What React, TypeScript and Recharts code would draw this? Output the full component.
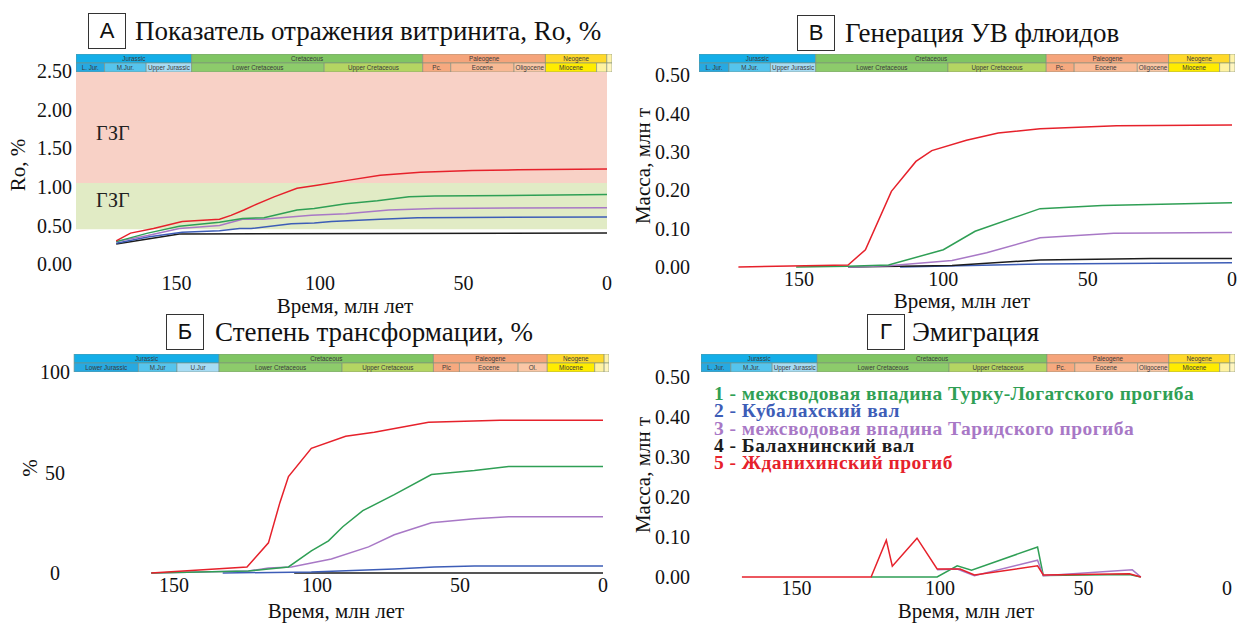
import React from "react";
import { LineChart, Line, XAxis, YAxis, ReferenceArea, ComposedChart } from "recharts";

const SERIF = '"Liberation Serif", "Times New Roman", serif';
const SANS = '"Liberation Sans", Arial, sans-serif';

// series colours
const C = { green: "#2f9f55", blue: "#3d5db7", purple: "#a878c6", black: "#1c1c1c", red: "#e6212b" };

// ---- geologic time bar (Ma) ----
const periodAges = [199.6, 145.5, 65.5, 23.03, 1.806, 0];
const periodNames = ["Jurassic", "Cretaceous", "Paleogene", "Neogene", ""];
const periodFills = ["#14aee8", "#80c563", "#f5a47b", "#ffd92a", "#fff3a8"];
const epochAges = [199.6, 175.6, 161.2, 145.5, 99.6, 65.5, 55.8, 33.9, 23.03, 5.332, 1.806, 0];
const epochFills = ["#27a9e1", "#55c4ed", "#a7dcf4", "#8dcb6b", "#b4d562", "#f6a97f", "#f8b994", "#fac7a6", "#ffec00", "#fff2a0", "#fff6c0"];
const epochNamesStd = ["L. Jur.", "M.Jur.", "Upper Jurassic", "Lower Cretaceous", "Upper Cretaceous", "Pc.", "Eocene", "Oligocene", "Miocene", "", ""];
const epochNamesB = ["Lower Jurassic", "M.Jur", "U.Jur", "Lower Cretaceous", "Upper Cretaceous", "Plc", "Eocene", "Ol.", "Miocene", "", ""];

// ---- А: vitrinite reflectance, Ro % (age Ma, value) ----
const roBlack = [[171, 0.26], [149, 0.39], [0, 0.4]];
const roBlue = [[171, 0.27], [160, 0.35], [148, 0.41], [135, 0.43], [128, 0.46], [124, 0.46], [110, 0.52], [102, 0.53], [96, 0.55], [79, 0.58], [66, 0.6], [0, 0.61]];
const roPurple = [[171, 0.29], [160, 0.37], [149, 0.46], [135, 0.5], [127, 0.58], [120, 0.58], [103, 0.63], [91, 0.65], [76, 0.7], [60, 0.72], [0, 0.73]];
const roGreen = [[171, 0.29], [160, 0.4], [149, 0.49], [135, 0.54], [127, 0.59], [119.5, 0.6], [108, 0.7], [102, 0.72], [91, 0.78], [80, 0.82], [69, 0.87], [60, 0.88], [0, 0.9]];
const roRed = [[171, 0.3], [166, 0.4], [158, 0.46], [148, 0.55], [135, 0.58], [131, 0.63], [126.5, 0.7], [123, 0.76], [116, 0.87], [108, 0.98], [101, 1.02], [91, 1.08], [79, 1.15], [65, 1.19], [47, 1.21], [31, 1.22], [0, 1.23]];
const roZones = [0.45, 1.05, 2.5];
const roZoneNames = ["ГЗГ", "ГЗГ"];
const roTicks = [0, 0.5, 1, 1.5, 2, 2.5];

// ---- В: generation, mln t ----
const genBlue = [[115, 0], [66.5, 0.008], [0, 0.011]];
const genBlack = [[133, 0], [97, 0.004], [85, 0.01], [66.5, 0.018], [28, 0.022], [0, 0.022]];
const genPurple = [[133, 0], [119, 0.003], [97, 0.017], [85, 0.037], [66.5, 0.076], [41, 0.088], [0, 0.09]];
const genGreen = [[151, 0], [133, 0.002], [119, 0.005], [100, 0.045], [89, 0.093], [66.5, 0.152], [45, 0.16], [0, 0.167]];
const genRed = [[171, 0], [133, 0.005], [127, 0.045], [118, 0.197], [109.5, 0.275], [104, 0.303], [92, 0.33], [81, 0.349], [66.5, 0.36], [40, 0.368], [0, 0.37]];
const massTicks = [0, 0.1, 0.2, 0.3, 0.4, 0.5];

// ---- Б: transformation ratio, % ----
const trBlack = [[108, 0], [0, 0]];
const trBlue = [[133, 0], [102, 0.5], [73, 2], [59, 3], [45, 3.5], [0, 3.5]];
const trPurple = [[158, 0], [124, 1], [117, 2.5], [109, 3], [102, 5], [95, 7], [82, 13], [73, 19], [60, 25], [45, 27], [33, 28], [0, 28]];
const trGreen = [[158, 0], [124, 1], [117, 2], [110, 3], [102, 11], [96, 16], [91, 23], [84, 31], [73, 39], [60, 49], [45, 51], [33, 53], [0, 53]];
const trRed = [[158, 0], [124.5, 3], [117, 15], [113, 35], [110, 48], [102, 62], [90, 68], [80, 70], [61, 75], [36, 76], [0, 76]];
const trTicks = [0, 50, 100];

// ---- Г: emigration, mln t ----
const emGreen = [[124, 0], [101, 0], [94, 0.028], [89, 0.017], [66, 0.075], [64, 0.004], [34, 0.006], [30, 0]];
const emPurple = [[101, 0.018], [94, 0.02], [88, 0.003], [66, 0.042], [64, 0.003], [33, 0.018], [30, 0]];
const emRed = [[169, 0], [124, 0], [118.7, 0.092], [116.6, 0.027], [108, 0.097], [101, 0.02], [93, 0.02], [88, 0.005], [66, 0.028], [64, 0.005], [34, 0.008], [30, 0]];

const legendNames = [
  "1 - межсводовая впадина Турку-Логатского прогиба",
  "2 - Кубалахский вал",
  "3 - межсводовая впадина Таридского прогиба",
  "4 - Балахнинский вал",
  "5 - Жданихинский прогиб",
];
const legendColors = [C.green, C.blue, C.purple, C.black, C.red];

const ageTicks = [0, 50, 100, 150];

const pts = (a: number[][]) => a.map(([t, v]) => ({ t, v }));

function TimeBar({ left, top, width, maxAge, names }: { left: number; top: number; width: number; maxAge: number; names: string[] }) {
  const cut = (a: number) => Math.min(a, maxAge);
  const lbl = (value: string) => ({ value, position: "center" as const, fontSize: 6.3, fill: "#3a3a3a", fontFamily: SANS });
  return (
    <div style={{ position: "absolute", left, top }}>
      <ComposedChart width={width} height={18} margin={{ top: 0, right: 0, bottom: 0, left: 0 }} data={[{ t: 0, y: 0 }, { t: maxAge, y: 2 }]}>
        <XAxis dataKey="t" type="number" domain={[0, maxAge]} reversed hide allowDataOverflow />
        <YAxis dataKey="y" type="number" domain={[0, 2]} hide allowDataOverflow />
        <Line dataKey="y" stroke="none" dot={false} isAnimationActive={false} />
        {periodNames.map((n, i) => (
          <ReferenceArea key={"p" + i} x1={cut(periodAges[i])} x2={periodAges[i + 1]} y1={1} y2={2}
            fill={periodFills[i]} fillOpacity={1} stroke="#7d8d7d" strokeWidth={0.6} label={lbl(n)} />
        ))}
        {names.map((n, i) => (
          <ReferenceArea key={"e" + i} x1={cut(epochAges[i])} x2={epochAges[i + 1]} y1={0} y2={1}
            fill={epochFills[i]} fillOpacity={1} stroke="#7d8d7d" strokeWidth={0.6} label={lbl(n)} />
        ))}
      </ComposedChart>
    </div>
  );
}

function TitleBox({ left, top, letter, text, textLeft }: { left: number; top: number; letter: string; text: string; textLeft: number }) {
  return (
    <>
      <div style={{ position: "absolute", left, top, width: 36, height: 34, border: "1.3px solid #333", fontFamily: SANS, fontSize: 22, lineHeight: "34px", textAlign: "center", color: "#111" }}>{letter}</div>
      <div style={{ position: "absolute", left: textLeft, top: top, height: 36, lineHeight: "36px", fontFamily: SERIF, fontSize: 27, color: "#111", whiteSpace: "nowrap" }}>{text}</div>
    </>
  );
}

function YTitle({ x, y, text }: { x: number; y: number; text: string }) {
  return (
    <div style={{ position: "absolute", left: x, top: y, transform: "translate(-50%,-50%) rotate(-90deg)", fontFamily: SERIF, fontSize: 21, color: "#111", whiteSpace: "nowrap" }}>{text}</div>
  );
}

function XTitle({ x, y, text }: { x: number; y: number; text: string }) {
  return (
    <div style={{ position: "absolute", left: x, top: y, transform: "translate(-50%,-50%)", fontFamily: SERIF, fontSize: 21, lineHeight: "21px", color: "#111", whiteSpace: "nowrap" }}>{text}</div>
  );
}

const tickStyle = { fontSize: 20, fontFamily: SERIF, fill: "#111" };
const lineProps = { type: "linear" as const, dataKey: "v", dot: false, strokeWidth: 1.5, isAnimationActive: false };

export default function App() {
  return (
    <div style={{ position: "absolute", left: 0, top: 0, width: 1238, height: 624, background: "#fff", overflow: "hidden" }}>
      {/* А */}
      <div style={{ position: "absolute", left: 0, top: 0 }}>
        <LineChart width={620} height={320} margin={{ top: 71, right: 13, bottom: 0, left: 0 }}>
          <XAxis dataKey="t" type="number" domain={[0, 185]} reversed ticks={ageTicks} axisLine={false} tickLine={false} tickSize={0} tickMargin={12} height={56} tick={tickStyle} allowDataOverflow />
          <YAxis type="number" domain={[0, 2.5]} ticks={roTicks} tickFormatter={(v: number) => v.toFixed(2)} axisLine={false} tickLine={false} tickSize={0} tickMargin={4} width={76} tick={tickStyle} />
          {roZoneNames.map((n, i) => (
            <ReferenceArea key={i} y1={roZones[i]} y2={roZones[i + 1]} fill={i === 0 ? "#e1ebc5" : "#f8d1c6"} fillOpacity={1} stroke="none"
              label={{ value: n, position: "insideLeft", offset: 20, dy: i === 0 ? -6 : 6, fontSize: 20, fontFamily: SERIF, fill: "#222" }} />
          ))}
          <Line {...lineProps} data={pts(roBlack)} stroke={C.black} />
          <Line {...lineProps} data={pts(roBlue)} stroke={C.blue} />
          <Line {...lineProps} data={pts(roPurple)} stroke={C.purple} />
          <Line {...lineProps} data={pts(roGreen)} stroke={C.green} />
          <Line {...lineProps} data={pts(roRed)} stroke={C.red} />
        </LineChart>
      </div>
      <TimeBar left={76} top={54} width={536} maxAge={185.5} names={epochNamesStd} />
      <TitleBox left={88} top={13} letter="А" text="Показатель отражения витринита, Ro, %" textLeft={135} />
      <YTitle x={18} y={165} text="Ro, %" />
      <XTitle x={345} y={306} text="Время, млн лет" />

      {/* В */}
      <div style={{ position: "absolute", left: 620, top: 0 }}>
        <LineChart width={618} height={320} margin={{ top: 75, right: 6, bottom: 0, left: 0 }}>
          <XAxis dataKey="t" type="number" domain={[0, 185]} reversed ticks={ageTicks} axisLine={false} tickLine={false} tickSize={0} tickMargin={5} height={53} tick={tickStyle} allowDataOverflow />
          <YAxis type="number" domain={[0, 0.5]} ticks={massTicks} tickFormatter={(v: number) => v.toFixed(2)} axisLine={false} tickLine={false} tickSize={0} tickMargin={8} width={78} tick={tickStyle} />
          <Line {...lineProps} data={pts(genBlue)} stroke={C.blue} />
          <Line {...lineProps} data={pts(genBlack)} stroke={C.black} />
          <Line {...lineProps} data={pts(genPurple)} stroke={C.purple} />
          <Line {...lineProps} data={pts(genGreen)} stroke={C.green} />
          <Line {...lineProps} data={pts(genRed)} stroke={C.red} />
        </LineChart>
      </div>
      <TimeBar left={699} top={54} width={536} maxAge={186} names={epochNamesStd} />
      <TitleBox left={797} top={15} letter="В" text="Генерация УВ флюидов" textLeft={845} />
      <YTitle x={643} y={166} text="Масса, млн т" />
      <XTitle x={962} y={301} text="Время, млн лет" />

      {/* Б */}
      <div style={{ position: "absolute", left: 0, top: 310 }}>
        <LineChart width={620} height={314} margin={{ top: 62, right: 17, bottom: 0, left: 0 }}>
          <XAxis dataKey="t" type="number" domain={[0, 185]} reversed ticks={ageTicks} axisLine={false} tickLine={false} tickSize={0} tickMargin={5} height={51} tick={tickStyle} allowDataOverflow />
          <YAxis type="number" domain={[0, 100]} ticks={trTicks} axisLine={false} tickLine={false} tickSize={0} width={74}
            tick={(p: any) => <text x={55} y={p.y} dy="0.35em" textAnchor="middle" fontSize={20} fontFamily={SERIF} fill="#111">{p.payload.value}</text>} />
          <Line {...lineProps} data={pts(trBlack)} stroke={C.black} />
          <Line {...lineProps} data={pts(trBlue)} stroke={C.blue} />
          <Line {...lineProps} data={pts(trPurple)} stroke={C.purple} />
          <Line {...lineProps} data={pts(trGreen)} stroke={C.green} />
          <Line {...lineProps} data={pts(trRed)} stroke={C.red} />
        </LineChart>
      </div>
      <TimeBar left={73} top={354} width={536} maxAge={200} names={epochNamesB} />
      <TitleBox left={166} top={314} letter="Б" text="Степень трансформации, %" textLeft={215} />
      <YTitle x={30} y={468} text="%" />
      <XTitle x={336} y={611} text="Время, млн лет" />

      {/* Г */}
      <div style={{ position: "absolute", left: 620, top: 310 }}>
        <LineChart width={618} height={314} margin={{ top: 67, right: 11, bottom: 0, left: 0 }}>
          <XAxis dataKey="t" type="number" domain={[0, 185]} reversed ticks={ageTicks} axisLine={false} tickLine={false} tickSize={0} tickMargin={4} height={47} tick={tickStyle} allowDataOverflow />
          <YAxis type="number" domain={[0, 0.5]} ticks={massTicks} tickFormatter={(v: number) => v.toFixed(2)} axisLine={false} tickLine={false} tickSize={0} tickMargin={6} width={76} tick={tickStyle} />
          <Line {...lineProps} data={pts(emGreen)} stroke={C.green} />
          <Line {...lineProps} data={pts(emPurple)} stroke={C.purple} />
          <Line {...lineProps} data={pts(emRed)} stroke={C.red} />
        </LineChart>
      </div>
      <TimeBar left={701} top={354} width={534} maxAge={186} names={epochNamesStd} />
      <TitleBox left={867} top={314} letter="Г" text="Эмиграция" textLeft={912} />
      <YTitle x={643} y={475} text="Масса, млн т" />
      <XTitle x={966} y={611} text="Время, млн лет" />
      <div style={{ position: "absolute", left: 714, top: 385, fontFamily: SERIF, fontWeight: "bold", fontSize: 19.5, letterSpacing: 0.45, lineHeight: "17.3px" }}>
        {legendNames.map((n, i) => (
          <div key={i} style={{ color: legendColors[i], whiteSpace: "nowrap" }}>{n}</div>
        ))}
      </div>
    </div>
  );
}
